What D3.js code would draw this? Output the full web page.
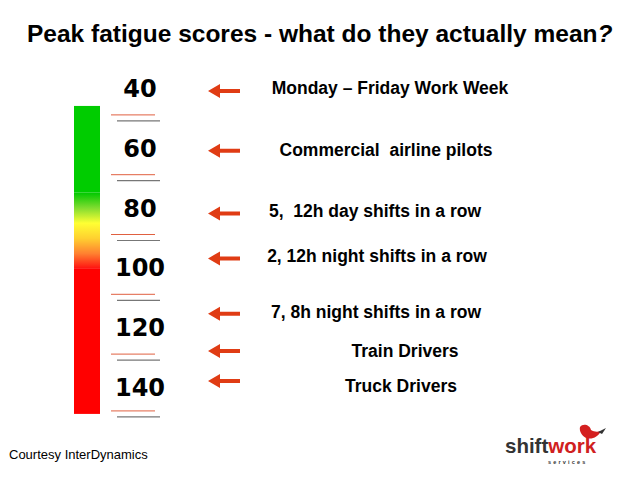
<!DOCTYPE html>
<html><head><meta charset="utf-8">
<script src="https://cdn.jsdelivr.net/npm/d3@7"></script>
<style>body{margin:0;background:#fff}svg{display:block}</style>
</head><body>
<script>
// ---- data ----
const scoreTicks = [40, 60, 80, 100, 120, 140];
const dividerScores = [50, 70, 90, 110, 130, 149];
const categories = [
  "Monday \u2013 Friday Work Week",
  "Commercial \u00a0airline pilots",
  "5, \u00a012h day shifts in a row",
  "2, 12h night shifts in a row",
  "7, 8h night shifts in a row",
  "Train Drivers",
  "Truck Drivers"
];
const peakScores = [41, 61, 82, 97, 115.5, 128, 138];
const zoneBounds = [46, 75, 100.5, 149]; // bar start, green end, red start, bar end

// ---- render ----
const W = 638, H = 479;
const svg = d3.select("body").append("svg").attr("width", W).attr("height", H);
const y = d3.scaleLinear().domain([40, 140]).range([88, 387]);

const title = svg.append("text").attr("x", 27).attr("y", 42)
  .attr("font-family", "Liberation Sans, Arial, sans-serif").attr("font-weight", "bold")
  .attr("font-size", 24.5).attr("fill", "#000");
title.append("tspan").text("Peak fatigue scores - what do they actually mean");
title.append("tspan").attr("font-style", "italic").text("?");

// colour bar
const defs = svg.append("defs");
const g0 = y(zoneBounds[1]), g1 = y(zoneBounds[2]);
const grad = defs.append("linearGradient").attr("id", "mid")
  .attr("gradientUnits", "userSpaceOnUse").attr("x1", 0).attr("x2", 0).attr("y1", g0).attr("y2", g1);
[[0, "#00c800"], [0.2, "#80dc30"], [0.4, "#ffff33"], [0.6, "#ffd030"], [0.8, "#ff8030"], [1, "#ff1010"]]
  .forEach(([o, c]) => grad.append("stop").attr("offset", o).attr("stop-color", c));

const barX = 74, barW = 26;
svg.append("rect").attr("x", barX).attr("width", barW)
  .attr("y", y(zoneBounds[0])).attr("height", y(zoneBounds[1]) - y(zoneBounds[0])).attr("fill", "#00cc00");
svg.append("rect").attr("x", barX).attr("width", barW)
  .attr("y", g0).attr("height", g1 - g0).attr("fill", "url(#mid)");
svg.append("rect").attr("x", barX).attr("width", barW)
  .attr("y", y(zoneBounds[2])).attr("height", y(zoneBounds[3]) - y(zoneBounds[2])).attr("fill", "#ff0000");

// score labels
svg.selectAll("text.score").data(scoreTicks).join("text").attr("class", "score")
  .attr("x", 140).attr("y", d => y(d) + 9).attr("text-anchor", "middle")
  .attr("font-family", "DejaVu Sans, sans-serif").attr("font-weight", "bold")
  .attr("font-size", 24).attr("fill", "#000")
  .text(d => d);

// divider pairs
dividerScores.forEach(s => {
  svg.append("line").attr("x1", 111).attr("x2", 155).attr("y1", y(s) - 3).attr("y2", y(s) - 3)
    .attr("stroke", "#e06040").attr("stroke-width", 1);
  svg.append("line").attr("x1", 117).attr("x2", 160).attr("y1", y(s) + 3).attr("y2", y(s) + 3)
    .attr("stroke", "#777").attr("stroke-width", 1.2);
});

// arrows
const arrowCol = "#e03c14";
peakScores.forEach(s => {
  const cy = y(s);
  svg.append("path")
    .attr("d", `M208,${cy} L220,${cy - 7} L220,${cy - 2} L240,${cy - 2} L240,${cy + 2} L220,${cy + 2} L220,${cy + 7} Z`)
    .attr("fill", arrowCol);
});

// category labels
const nudgeX = [0, -4, -15, -13, -14, 15, 11];
const nudgeY = [-2, 0, -2, -1, -1, 1, 6];
svg.selectAll("text.cat").data(categories).join("text").attr("class", "cat")
  .attr("x", (d, i) => 390 + nudgeX[i]).attr("y", (d, i) => y(peakScores[i]) + 5 + nudgeY[i])
  .attr("text-anchor", "middle")
  .attr("font-family", "Liberation Sans, Arial, sans-serif").attr("font-weight", "bold")
  .attr("font-size", 17.5).attr("fill", "#000")
  .text(d => d);

svg.append("text").attr("x", 9).attr("y", 459)
  .attr("font-family", "Liberation Sans, Arial, sans-serif").attr("font-size", 13).attr("fill", "#000")
  .text("Courtesy InterDynamics");

// logo
const logo = svg.append("g");
const lt = logo.append("text").attr("x", 505).attr("y", 453)
  .attr("font-family", "Liberation Sans, Arial, sans-serif").attr("font-weight", "bold").attr("font-size", 20.5);
lt.append("tspan").attr("fill", "#333").text("shift");
lt.append("tspan").attr("fill", "#d02020").text("work");
logo.append("text").attr("x", 548).attr("y", 464)
  .attr("font-family", "Liberation Sans, Arial, sans-serif").attr("font-weight", "bold").attr("font-size", 5.5)
  .attr("letter-spacing", 2.2).attr("fill", "#333").text("services");
logo.append("path").attr("d", "M580,427 C583,423 590,425 591,430 C594,432 598,432 601,431 C598,437 592,440 586,438 C582,436 579,431 580,427 Z")
  .attr("fill", "#d42020");
logo.append("path").attr("d", "M598,432 L606,428 L602,434 Z").attr("fill", "#333");
</script>
</body></html>
